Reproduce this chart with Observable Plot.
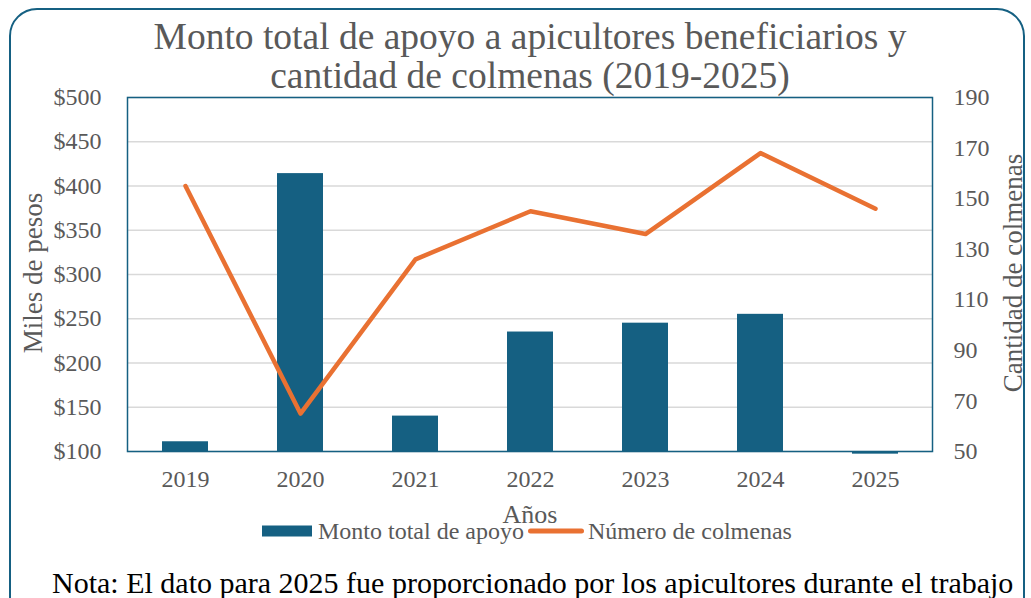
<!DOCTYPE html>
<html><head><meta charset="utf-8">
<script src="https://cdn.jsdelivr.net/npm/d3@7"></script>
<script src="https://cdn.jsdelivr.net/npm/@observablehq/plot@0.6"></script>
<style>
body{margin:0;background:#fff;}
#wrap{position:relative;width:1031px;height:598px;overflow:hidden;font-family:"Liberation Serif","Times New Roman",serif;color:#595959;}
#border{position:absolute;left:9px;top:8px;width:1016px;height:640px;border:2px solid #156082;border-radius:28px;box-sizing:border-box;}
#chart{position:absolute;left:0;top:0;}
#title{position:absolute;left:0;width:1060px;top:17px;text-align:center;font-size:37.5px;line-height:39px;}
.lab{position:absolute;font-size:27px;white-space:nowrap;}
#ylab{left:33px;top:273px;transform:translate(-50%,-50%) rotate(-90deg);}
#y2lab{left:1013px;top:273px;transform:translate(-50%,-50%) rotate(-90deg);}
#xlab{left:530px;top:515px;transform:translate(-50%,-50%);font-size:26px;}
#legend{position:absolute;top:531px;left:262px;font-size:24px;display:flex;align-items:center;transform:translateY(-50%);white-space:nowrap;}
.sw{display:inline-block;}
#note{position:absolute;left:52px;top:583px;transform:translateY(-50%);font-size:30px;color:#000;white-space:nowrap;}
</style></head>
<body><div id="wrap">
<div id="border"></div>
<div id="chart"></div>
<div id="title">Monto total de apoyo a apicultores beneficiarios y<br>cantidad de colmenas (2019-2025)</div>
<div class="lab" id="ylab">Miles de pesos</div>
<div class="lab" id="y2lab">Cantidad de colmenas</div>
<div class="lab" id="xlab">Años</div>
<div id="legend"><span class="sw" style="width:50px;height:11px;background:#156082;margin-right:6px"></span><span>Monto total de apoyo</span><span class="sw" style="width:56px;height:5px;border-radius:3px;background:#E97132;margin:0 4px 0 4px"></span><span>Número de colmenas</span></div>
<div id="note">Nota: El dato para 2025 fue proporcionado por los apicultores durante el trabajo</div>
</div>
<script>
const years = ["2019","2020","2021","2022","2023","2024","2025"];
const monto = [111, 414, 140, 235, 245, 255, 97];
const colmenas = [155, 65, 126, 145, 136, 168, 146];
const leftTicks = [100,150,200,250,300,350,400,450,500];
const rightTicks = [50,70,90,110,130,150,170,190];
const toLeft = v => 100 + (v - 50) * 400 / 140;
const fromLeft = y => Math.round(50 + (y - 100) * 140 / 400);
const data = years.map((y, i) => ({year: y, monto: monto[i], colmenas: colmenas[i]}));

const chart = Plot.plot({
  width: 1031, height: 500,
  marginLeft: 127, marginRight: 99, marginTop: 97, marginBottom: 49,
  style: {fontFamily: '"Liberation Serif","Times New Roman",serif', fontSize: "24px", color: "#595959", background: "transparent", overflow: "visible"},
  x: {type: "band", domain: years, paddingInner: 0.6, paddingOuter: 0.3, label: null},
  y: {domain: [100, 500], label: null},
  marks: [
    Plot.gridY(leftTicks, {stroke: "#d9d9d9", strokeOpacity: 1, strokeWidth: 1.5}),
    Plot.barY(data, {x: "year", y1: 100, y2: "monto", fill: "#156082"}),
    Plot.line(data, {x: "year", y: d => toLeft(d.colmenas), stroke: "#E97132", strokeWidth: 4.5, strokeLinecap: "round", strokeLinejoin: "round"}),
    Plot.frame({stroke: "#156082", strokeWidth: 1.5}),
    Plot.axisY(leftTicks, {tickSize: 0, tickPadding: 26, tickFormat: d => "$" + d, label: null}),
    Plot.axisY(rightTicks.map(toLeft), {anchor: "right", tickSize: 0, tickPadding: 21, tickFormat: fromLeft, label: null}),
    Plot.axisX({tickSize: 0, tickPadding: 18, label: null})
  ]
});
document.getElementById("chart").appendChild(chart);
</script>
</body></html>
